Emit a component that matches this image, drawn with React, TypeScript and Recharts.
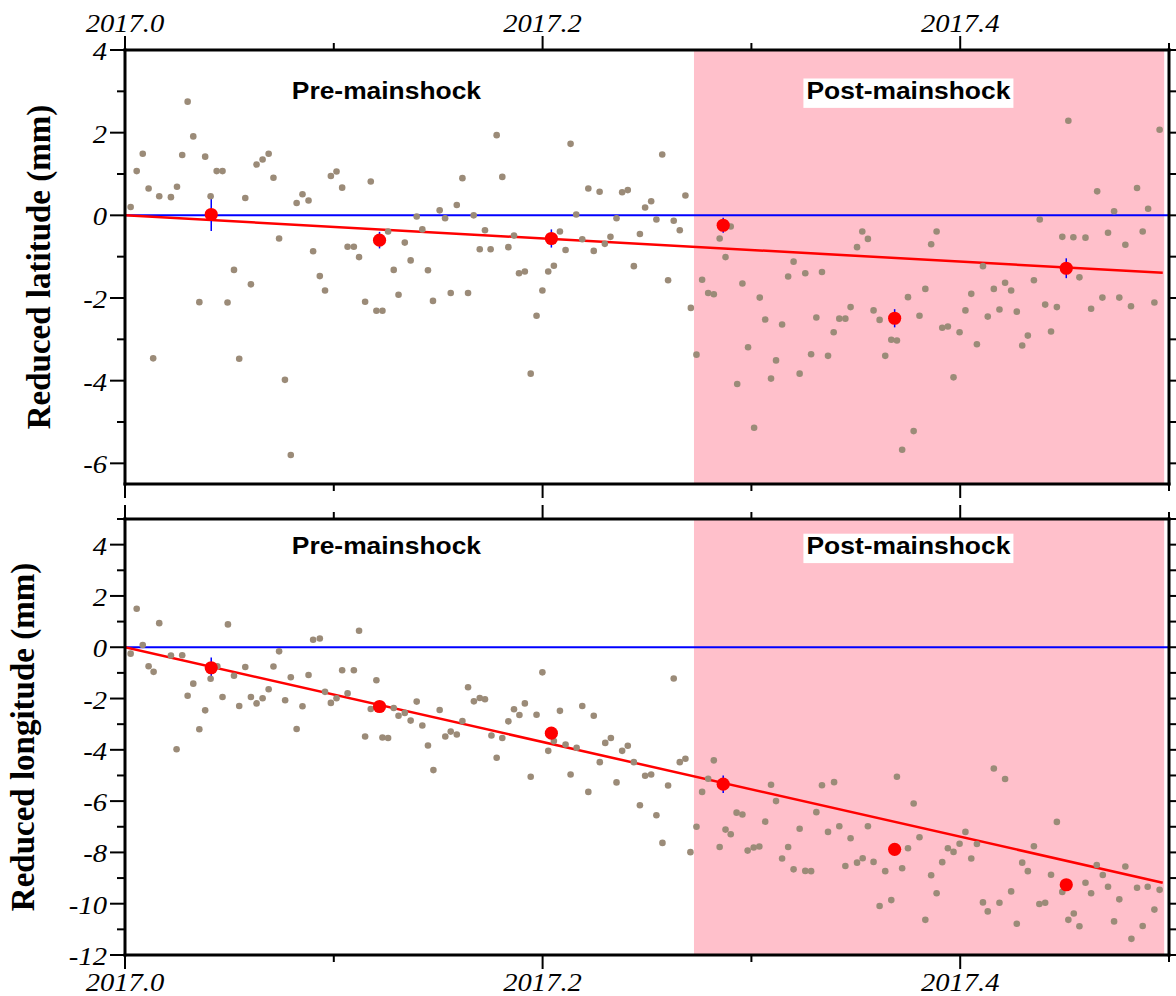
import React from 'react';
import {
  ComposedChart,
  Scatter,
  Line,
  XAxis,
  YAxis,
  ReferenceArea,
  ReferenceLine,
  ErrorBar,
} from 'recharts';

// ---------------- DATA ----------------
// Daily solutions: [decimal year, reduced latitude (mm)]
const latPoints: [number, number][] = [
  [2017.0027, 0.2], [2017.0056, 1.07], [2017.0085, 1.49], [2017.0113, 0.65], [2017.0135, -3.46],
  [2017.0164, 0.46], [2017.022, 0.44], [2017.0249, 0.69], [2017.0274, 1.46], [2017.03, 2.75],
  [2017.0327, 1.91], [2017.0356, -2.1], [2017.0384, 1.42], [2017.041, 0.46], [2017.0439, 1.07],
  [2017.0467, 1.07], [2017.0491, -2.11], [2017.0522, -1.32], [2017.0547, -3.47], [2017.0576, 0.42],
  [2017.0603, -1.67], [2017.063, 1.23], [2017.0659, 1.35], [2017.0688, 1.49], [2017.0711, 0.91],
  [2017.0738, -0.56], [2017.0766, -3.98], [2017.0794, -5.8], [2017.0822, 0.3], [2017.085, 0.51],
  [2017.0879, 0.36], [2017.0901, -0.87], [2017.0933, -1.47], [2017.0958, -1.82], [2017.0986, 0.95],
  [2017.1013, 1.06], [2017.104, 0.67], [2017.1066, -0.76], [2017.1096, -0.76], [2017.1121, -1.01],
  [2017.115, -2.09], [2017.1177, 0.82], [2017.1204, -2.31], [2017.1233, -2.31], [2017.126, -0.39],
  [2017.1287, -1.32], [2017.131, -1.92], [2017.134, -0.66], [2017.1368, -1.09], [2017.1397, -0.03],
  [2017.1424, -0.34], [2017.1451, -1.33], [2017.1475, -2.07], [2017.1507, 0.12], [2017.1533, -0.07],
  [2017.156, -1.88], [2017.1589, 0.25], [2017.1616, 0.9], [2017.1643, -1.88], [2017.167, 0.0],
  [2017.1699, -0.82], [2017.1724, -0.36], [2017.1751, -0.82], [2017.178, 1.94], [2017.1807, 0.93],
  [2017.1836, -0.77], [2017.1863, -0.49], [2017.1887, -1.4], [2017.1915, -1.36], [2017.1943, -3.83],
  [2017.1971, -2.43], [2017.1999, -1.82], [2017.2027, -1.36], [2017.2054, -1.22], [2017.2083, -0.39],
  [2017.211, -0.84], [2017.2134, 1.73], [2017.2161, 0.02], [2017.219, -0.58], [2017.2219, 0.65],
  [2017.2245, -0.86], [2017.2273, 0.57], [2017.2298, -0.69], [2017.2325, -0.52], [2017.2354, -0.07],
  [2017.2381, 0.56], [2017.2408, 0.61], [2017.2437, -1.23], [2017.2466, -0.45], [2017.2491, 0.19],
  [2017.252, 0.34], [2017.2545, -0.1], [2017.2573, 1.47], [2017.2601, -1.57], [2017.2628, -0.13],
  [2017.2657, -0.36], [2017.2684, 0.48], [2017.271, -2.24], [2017.2737, -3.37], [2017.2764, -1.56],
  [2017.2793, -1.88], [2017.282, -1.91], [2017.2848, -0.56], [2017.2876, -1.01], [2017.2901, -0.27],
  [2017.2932, -4.08], [2017.2957, -1.65], [2017.2984, -3.19], [2017.3013, -5.14], [2017.304, -1.99],
  [2017.3066, -2.52], [2017.3094, -3.95], [2017.3118, -3.51], [2017.3147, -2.64], [2017.3176, -1.48],
  [2017.3202, -1.12], [2017.3231, -3.83], [2017.3258, -1.4], [2017.3286, -3.36], [2017.3311, -2.47],
  [2017.3338, -1.37], [2017.3367, -3.4], [2017.3394, -2.83], [2017.3421, -2.5], [2017.345, -2.5],
  [2017.3475, -2.22], [2017.3506, -0.77], [2017.3531, -0.39], [2017.3558, -0.57], [2017.3585, -2.3],
  [2017.3614, -2.53], [2017.3641, -3.4], [2017.367, -3.01], [2017.3697, -3.03], [2017.3722, -5.67],
  [2017.375, -1.98], [2017.3777, -5.22], [2017.3805, -2.43], [2017.3833, -1.78], [2017.3861, -0.7],
  [2017.3887, -0.39], [2017.3914, -2.72], [2017.3941, -2.69], [2017.3968, -3.92], [2017.3997, -2.83],
  [2017.4025, -2.3], [2017.4053, -1.9], [2017.408, -3.12], [2017.4109, -1.23], [2017.4132, -2.45],
  [2017.4161, -1.78], [2017.4188, -2.28], [2017.4215, -1.63], [2017.4244, -1.82], [2017.4271, -2.33],
  [2017.4297, -3.15], [2017.4324, -2.91], [2017.4353, -1.57], [2017.4381, -0.1], [2017.4407, -2.16],
  [2017.4435, -2.81], [2017.4463, -2.22], [2017.4489, -0.52], [2017.4518, 2.29], [2017.4542, -0.53],
  [2017.4571, -1.5], [2017.46, -0.54], [2017.4627, -2.26], [2017.4656, 0.58], [2017.4681, -1.99],
  [2017.4708, -0.42], [2017.4737, 0.1], [2017.4762, -1.99], [2017.4791, -0.71], [2017.4818, -2.2],
  [2017.4847, 0.66], [2017.4874, -0.39], [2017.49, 0.16], [2017.493, -2.11], [2017.4955, 2.07],
];

// Daily solutions: [decimal year, reduced longitude (mm)]
const lonPoints: [number, number][] = [
  [2017.0027, -0.25], [2017.0056, 1.5], [2017.0085, 0.09], [2017.0113, -0.74], [2017.0137, -0.96],
  [2017.0164, 0.94], [2017.022, -0.32], [2017.0247, -3.98], [2017.0274, -0.31], [2017.03, -1.89],
  [2017.0327, -1.42], [2017.0356, -3.2], [2017.0384, -2.46], [2017.041, -1.23], [2017.0442, -0.74],
  [2017.0467, -1.94], [2017.0493, 0.89], [2017.0522, -1.11], [2017.0547, -2.29], [2017.0576, -0.77],
  [2017.0603, -1.94], [2017.063, -2.19], [2017.0659, -1.99], [2017.0688, -1.64], [2017.0711, -0.75],
  [2017.0738, -0.16], [2017.0767, -2.07], [2017.0794, -1.17], [2017.0822, -3.19], [2017.085, -2.3],
  [2017.0879, -1.08], [2017.0901, 0.29], [2017.0933, 0.34], [2017.0958, -1.74], [2017.0986, -2.17],
  [2017.1013, -1.99], [2017.104, -0.9], [2017.1066, -1.8], [2017.1096, -0.9], [2017.1121, 0.64],
  [2017.115, -3.48], [2017.1177, -2.41], [2017.1204, -1.29], [2017.1233, -3.52], [2017.126, -3.54],
  [2017.1287, -2.37], [2017.131, -2.67], [2017.134, -2.56], [2017.1368, -2.86], [2017.1397, -2.12],
  [2017.1424, -3.05], [2017.1451, -3.83], [2017.1477, -4.79], [2017.1507, -2.45], [2017.1534, -3.48],
  [2017.156, -3.29], [2017.1589, -3.4], [2017.1616, -2.88], [2017.1643, -1.56], [2017.1671, -2.11],
  [2017.1699, -1.98], [2017.1724, -2.03], [2017.1755, -3.44], [2017.178, -4.31], [2017.1807, -3.54],
  [2017.1836, -2.89], [2017.1863, -2.42], [2017.1889, -2.64], [2017.1915, -2.19], [2017.1943, -5.05],
  [2017.1971, -2.63], [2017.1999, -0.98], [2017.2027, -4.04], [2017.2054, -3.66], [2017.2083, -2.48],
  [2017.211, -3.79], [2017.2134, -4.96], [2017.2163, -3.92], [2017.219, -2.29], [2017.2219, -5.64],
  [2017.2245, -2.67], [2017.2274, -4.48], [2017.23, -3.73], [2017.2327, -3.54], [2017.2354, -5.27],
  [2017.2381, -4.04], [2017.2408, -3.84], [2017.2437, -4.48], [2017.2466, -6.16], [2017.2491, -5.01],
  [2017.252, -4.96], [2017.2545, -6.55], [2017.2574, -7.63], [2017.2601, -5.39], [2017.2628, -1.22],
  [2017.2657, -4.48], [2017.2684, -4.35], [2017.2708, -7.99], [2017.2737, -7.0], [2017.2764, -5.64],
  [2017.2793, -5.13], [2017.282, -4.41], [2017.2848, -7.79], [2017.2876, -7.11], [2017.2901, -7.29],
  [2017.2929, -6.45], [2017.2957, -6.52], [2017.2982, -7.93], [2017.3011, -7.81], [2017.3038, -7.77],
  [2017.3066, -6.8], [2017.3094, -5.36], [2017.3118, -6.0], [2017.3147, -8.24], [2017.3176, -7.79],
  [2017.3202, -8.66], [2017.3231, -7.08], [2017.3258, -8.72], [2017.3286, -8.73], [2017.3311, -6.43],
  [2017.3338, -5.38], [2017.3367, -7.2], [2017.3396, -5.26], [2017.3421, -6.98], [2017.345, -8.53],
  [2017.3475, -7.45], [2017.3506, -8.4], [2017.3533, -8.23], [2017.3558, -6.98], [2017.3585, -8.37],
  [2017.3614, -10.09], [2017.3641, -8.73], [2017.367, -9.86], [2017.3697, -5.05], [2017.3722, -8.62],
  [2017.375, -7.84], [2017.3777, -6.09], [2017.3805, -7.41], [2017.3833, -10.63], [2017.3861, -8.89],
  [2017.3887, -9.59], [2017.3914, -8.38], [2017.3941, -7.84], [2017.3968, -7.98], [2017.3997, -7.66],
  [2017.4025, -7.2], [2017.4053, -8.24], [2017.408, -7.67], [2017.4109, -9.95], [2017.4132, -10.3],
  [2017.4161, -4.73], [2017.4188, -9.96], [2017.4215, -5.14], [2017.4244, -9.52], [2017.4271, -10.78],
  [2017.4297, -8.4], [2017.4324, -8.73], [2017.4353, -7.76], [2017.4379, -10.01], [2017.4407, -9.96],
  [2017.4435, -8.87], [2017.4463, -6.81], [2017.4489, -9.54], [2017.4518, -10.63], [2017.4544, -10.38],
  [2017.4571, -10.88], [2017.46, -9.18], [2017.4627, -9.59], [2017.4654, -8.49], [2017.4683, -8.88],
  [2017.4708, -9.34], [2017.4737, -10.69], [2017.4762, -9.83], [2017.4791, -8.55], [2017.482, -11.37],
  [2017.4847, -9.38], [2017.4874, -10.87], [2017.4898, -9.34], [2017.493, -10.23], [2017.4955, -9.46],
];

// Monthly means: [decimal year, value (mm), error (mm)]
const latMonthly: [number, number, number][] = [
  [2017.0413, 0.02, 0.4], [2017.1219, -0.6, 0.2], [2017.2042, -0.56, 0.22],
  [2017.2865, -0.24, 0.18], [2017.3686, -2.49, 0.22], [2017.4508, -1.28, 0.24],
];
const lonMonthly: [number, number, number][] = [
  [2017.0413, -0.8, 0.4], [2017.1219, -2.31, 0.22], [2017.2042, -3.35, 0.2],
  [2017.2865, -5.34, 0.34], [2017.3686, -7.88, 0.2], [2017.4508, -9.26, 0.2],
];

// Linear trends: [decimal year, mm]
const latTrend: [number, number][] = [[2017.0, 0], [2017.497, -1.39]];
const lonTrend: [number, number][] = [[2017.0, 0], [2017.497, -9.18]];

// Periods
const mainshockEpoch = 2017.2725;
const lastEpoch = 2017.4977;

// Axes
const xDomain: [number, number] = [2017.0, 2017.5];
const xTicks = [2017.0, 2017.1, 2017.2, 2017.3, 2017.4, 2017.5];
const latDomain: [number, number] = [-6.5, 4];
const latTicks = [-6, -5, -4, -3, -2, -1, 0, 1, 2, 3, 4];
const lonDomain: [number, number] = [-12, 5];
const lonTicks = [-12, -11, -10, -9, -8, -7, -6, -5, -4, -3, -2, -1, 0, 1, 2, 3, 4, 5];

// Period annotations: [decimal year, mm (baseline), text, boxed]
const latAnnotations: [number, number, string, boolean][] = [
  [2017.1252, 2.81, 'Pre-mainshock', false],
  [2017.3752, 2.81, 'Post-mainshock', true],
];
const lonAnnotations: [number, number, string, boolean][] = [
  [2017.1252, 3.62, 'Pre-mainshock', false],
  [2017.3752, 3.62, 'Post-mainshock', true],
];

// ---------------- STYLE ----------------
const SERIF = '"Liberation Serif", "Times New Roman", Times, serif';
const SANS = '"Liberation Sans", Arial, Helvetica, sans-serif';
const AXIS_LINE = { stroke: '#000', strokeWidth: 3, strokeLinecap: 'square' as const };

const GreyDot = (p: any) => <circle cx={p.cx} cy={p.cy} r={3.3} fill="#9b8b78" />;
const RedDot = (p: any) => <circle cx={p.cx} cy={p.cy} r={6.6} fill="#ff0000" />;

const AnnotationShape = (p: any) => {
  const { cx, cy, payload } = p;
  return (
    <g>
      {payload.boxed && <rect x={cx - 105} y={cy - 20.7} width={210} height={29.4} fill="#ffffff" />}
      <text
        transform={`translate(${cx},${cy}) scale(1.1,1)`}
        textAnchor="middle"
        fontFamily={SANS}
        fontWeight="bold"
        fontSize={24}
        fill="#000"
      >
        {payload.text}
      </text>
    </g>
  );
};

const makeXTick = (side: 'top' | 'bottom', labels: boolean) => (p: any) => {
  const { x, y, payload } = p;
  const v = Number(payload.value);
  const major = Math.round((v - 2017) * 10) % 2 === 0;
  const len = major ? 14 : 7;
  const dir = side === 'top' ? -1 : 1;
  return (
    <g>
      <line x1={x} x2={x} y1={y} y2={y + dir * len} stroke="#000" strokeWidth={2} />
      {labels && major && (
        <text
          transform={`translate(${x},${side === 'top' ? y - 17.7 : y + 36}) scale(1.1,1)`}
          textAnchor="middle"
          fontFamily={SERIF}
          fontStyle="italic"
          fontSize={26}
          fill="#000"
        >
          {v.toFixed(1)}
        </text>
      )}
    </g>
  );
};

const makeYTick = (side: 'left' | 'right', labels: boolean) => (p: any) => {
  const { x, y, payload } = p;
  const v = Number(payload.value);
  const major = v % 2 === 0;
  const len = major ? 15 : 8;
  const dir = side === 'left' ? -1 : 1;
  return (
    <g>
      <line x1={x} x2={x + dir * len} y1={y} y2={y} stroke="#000" strokeWidth={2} />
      {labels && major && (
        <text
          transform={`translate(${x - 18},${y + 10}) scale(1.1,1)`}
          textAnchor="end"
          fontFamily={SERIF}
          fontStyle="italic"
          fontSize={26}
          fill="#000"
        >
          {String(v)}
        </text>
      )}
    </g>
  );
};

type PanelProps = {
  points: [number, number][];
  monthly: [number, number, number][];
  trend: [number, number][];
  annotations: [number, number, string, boolean][];
  yDomain: [number, number];
  yTicks: number[];
  top: number;
  height: number;
  margin: { top: number; right: number; bottom: number; left: number };
  labelsOnTop: boolean;
};

function Panel(props: PanelProps) {
  const { points, monthly, trend, annotations, yDomain, yTicks, top, height, margin, labelsOnTop } = props;
  const pts = points.map(([x, y]) => ({ x, y }));
  const mon = monthly.map(([x, y, err]) => ({ x, y, err }));
  const tr = trend.map(([x, y]) => ({ x, y }));
  const ann = annotations.map(([x, y, text, boxed]) => ({ x, y, text, boxed }));

  return (
    <div style={{ position: 'absolute', left: 0, top }}>
      <ComposedChart width={1176} height={height} margin={margin}>
        <ReferenceArea
          xAxisId="xb"
          yAxisId="yl"
          x1={mainshockEpoch}
          x2={lastEpoch}
          fill="#ffc0cb"
          fillOpacity={1}
          stroke="none"
          ifOverflow="hidden"
        />
        <ReferenceLine xAxisId="xb" yAxisId="yl" y={0} stroke="#0000ff" strokeWidth={2} />
        <Scatter xAxisId="xb" yAxisId="yl" data={pts} shape={GreyDot} isAnimationActive={false} />
        <Line
          xAxisId="xb"
          yAxisId="yl"
          data={tr}
          dataKey="y"
          type="linear"
          stroke="#ff0000"
          strokeWidth={2.5}
          dot={false}
          activeDot={false}
          isAnimationActive={false}
        />
        <Scatter xAxisId="xb" yAxisId="yl" data={mon} shape={RedDot} isAnimationActive={false}>
          <ErrorBar dataKey="err" direction="y" width={0} stroke="#0000ff" strokeWidth={1.5} isAnimationActive={false} />
        </Scatter>
        <Scatter xAxisId="xb" yAxisId="yl" data={ann} shape={AnnotationShape} isAnimationActive={false} />

        <XAxis
          xAxisId="xt"
          orientation="top"
          type="number"
          dataKey="x"
          domain={xDomain}
          ticks={xTicks}
          interval={0}
          allowDataOverflow
          height={10}
          tickSize={0}
          tickMargin={0}
          tickLine={false}
          axisLine={AXIS_LINE}
          tick={makeXTick('top', labelsOnTop)}
        />
        <XAxis
          xAxisId="xb"
          orientation="bottom"
          type="number"
          dataKey="x"
          domain={xDomain}
          ticks={xTicks}
          interval={0}
          allowDataOverflow
          height={10}
          tickSize={0}
          tickMargin={0}
          tickLine={false}
          axisLine={AXIS_LINE}
          tick={makeXTick('bottom', !labelsOnTop)}
        />
        <YAxis
          yAxisId="yl"
          orientation="left"
          type="number"
          dataKey="y"
          domain={yDomain}
          ticks={yTicks}
          interval={0}
          allowDataOverflow
          width={10}
          tickSize={0}
          tickMargin={0}
          tickLine={false}
          axisLine={AXIS_LINE}
          tick={makeYTick('left', true)}
        />
        <YAxis
          yAxisId="yr"
          orientation="right"
          type="number"
          dataKey="y"
          domain={yDomain}
          ticks={yTicks}
          interval={0}
          allowDataOverflow
          width={7}
          tickSize={0}
          tickMargin={0}
          tickLine={false}
          axisLine={AXIS_LINE}
          tick={makeYTick('right', false)}
        />
      </ComposedChart>
    </div>
  );
}

export default function App() {
  return (
    <div
      style={{
        position: 'absolute',
        left: 0,
        top: 0,
        width: 1176,
        height: 996,
        background: '#ffffff',
        overflow: 'hidden',
      }}
    >
      <Panel
        points={latPoints}
        monthly={latMonthly}
        trend={latTrend}
        annotations={latAnnotations}
        yDomain={latDomain}
        yTicks={latTicks}
        top={0}
        height={510}
        margin={{ top: 40, right: 0, bottom: 16, left: 115 }}
        labelsOnTop={true}
      />
      <Panel
        points={lonPoints}
        monthly={lonMonthly}
        trend={lonTrend}
        annotations={lonAnnotations}
        yDomain={lonDomain}
        yTicks={lonTicks}
        top={490}
        height={506}
        margin={{ top: 19, right: 0, bottom: 31, left: 115 }}
        labelsOnTop={false}
      />
      <svg
        width={1176}
        height={996}
        style={{ position: 'absolute', left: 0, top: 0, pointerEvents: 'none' }}
      >
        <text
          transform="translate(50,267) rotate(-90)"
          textAnchor="middle"
          fontFamily={SERIF}
          fontWeight="bold"
          fontSize={33}
          fill="#000"
        >
          Reduced latitude (mm)
        </text>
        <text
          transform="translate(34.3,737) rotate(-90)"
          textAnchor="middle"
          fontFamily={SERIF}
          fontWeight="bold"
          fontSize={33}
          fill="#000"
        >
          Reduced longitude (mm)
        </text>
      </svg>
    </div>
  );
}
